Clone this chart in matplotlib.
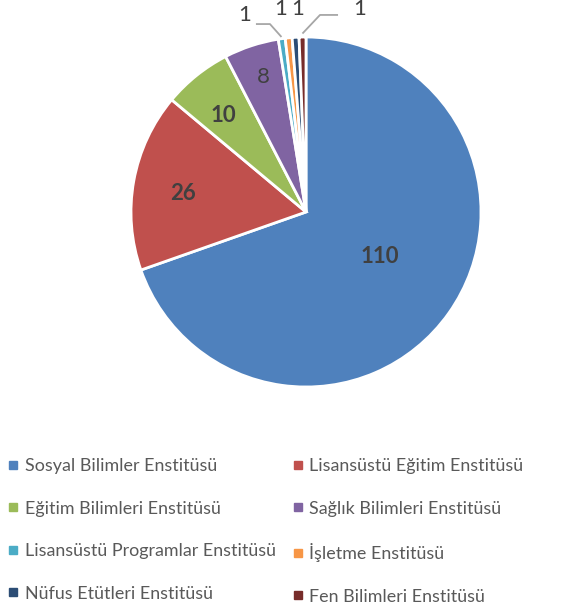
import matplotlib
matplotlib.use("Agg")
import matplotlib.pyplot as plt
from matplotlib.lines import Line2D
import numpy as np

categories = ["Sosyal Bilimler Enstitüsü", "Lisansüstü Eğitim Enstitüsü",
              "Eğitim Bilimleri Enstitüsü", "Sağlık Bilimleri Enstitüsü",
              "Lisansüstü Programlar Enstitüsü", "İşletme Enstitüsü",
              "Nüfus Etütleri Enstitüsü", "Fen Bilimleri Enstitüsü"]
values = [110, 26, 10, 8, 1, 1, 1, 1]
colors = ["#4F81BD", "#C0504D", "#9BBB59", "#8064A2",
          "#4BACC6", "#F79646", "#2C4D75", "#772C2A"]

plt.rcParams['font.family'] = ['Lato', 'DejaVu Sans']
W, H = 565, 609
fig = plt.figure(figsize=(W / 100, H / 100), dpi=100)
cx, cy, R = 306, 212, 175
ax = fig.add_axes([(cx - R) / W, (H - cy - R) / H, 2 * R / W, 2 * R / H])

wedges, _ = ax.pie(values, colors=colors, startangle=90, counterclock=False,
                   radius=1, wedgeprops=dict(edgecolor='white', linewidth=2))
ax.set_xlim(-1, 1)
ax.set_ylim(-1, 1)
ax.set_aspect('equal')
ax.axis('off')

total = sum(values)
cum = np.cumsum([0] + values)
mids = [90 - (cum[i] + values[i] / 2) / total * 360 for i in range(len(values))]

txtc = '#404040'
# label anchor positions (fraction of radius) and weight
labpos = {0: (0.423, -0.257, 'bold'), 1: (-0.703, 0.103, 'bold'),
          2: (-0.474, 0.551, 'bold'), 3: (-0.246, 0.769, 'normal'),
          4: (-0.349, 1.125, 'normal'), 5: (-0.143, 1.16, 'normal'),
          6: (-0.046, 1.16, 'normal'), 7: (0.309, 1.16, 'normal')}
for i, (x, y, w) in labpos.items():
    ax.text(x, y, str(values[i]), ha='center', va='center',
            fontsize=16, fontweight=w, color=txtc, clip_on=False)

lc = '#A6A6A6'
a4 = np.deg2rad(mids[4])
ax.plot([-0.286, -0.206, 1.01 * np.cos(a4)], [1.074, 1.074, 1.01 * np.sin(a4)],
        color=lc, lw=1.3, clip_on=False, solid_capstyle='butt')
a7 = np.deg2rad(mids[7])
ax.plot([0.183, 0.08, 1.02 * np.cos(a7)], [1.126, 1.126, 1.02 * np.sin(a7)],
        color=lc, lw=1.3, clip_on=False, solid_capstyle='butt')

handles = [Line2D([], [], marker='s', linestyle='none', markersize=5.5,
                  markerfacecolor=c, markeredgecolor=c) for c in colors]
order = [0, 2, 4, 6, 1, 3, 5, 7]
leg = fig.legend([handles[i] for i in order], [categories[i] for i in order],
                 ncol=2, loc='upper left',
                 bbox_to_anchor=(8 / W, 1 - 458 / H), frameon=False,
                 fontsize=12.9, labelcolor='#595959', handlelength=0.6,
                 handletextpad=0.35, columnspacing=0.9, labelspacing=1.48,
                 borderaxespad=0, borderpad=0)

fig.savefig("out.png", dpi=100)
